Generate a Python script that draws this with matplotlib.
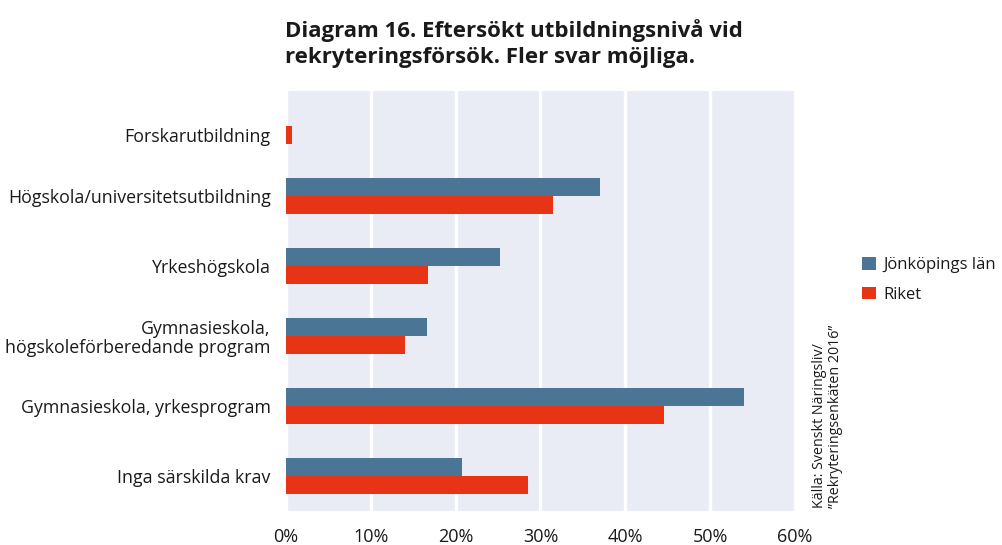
import matplotlib
matplotlib.use("Agg")
import matplotlib.pyplot as plt
import matplotlib.transforms as mtransforms
import numpy as np

categories = [
    "Forskarutbildning",
    "Högskola/universitetsutbildning",
    "Yrkeshögskola",
    "Gymnasieskola,\nhögskoleförberedande program",
    "Gymnasieskola, yrkesprogram",
    "Inga särskilda krav",
]
jonkoping = [0.0, 37.0, 25.2, 16.6, 54.0, 20.8]
riket = [0.7, 31.5, 16.8, 14.0, 44.6, 28.5]
series_names = ["Jönköpings län", "Riket"]
xticks = [0, 10, 20, 30, 40, 50, 60]
xtick_labels = [f"{v}%" for v in xticks]
title = "Diagram 16. Eftersökt utbildningsnivå vid\nrekryteringsförsök. Fler svar möjliga."
source = "Källa: Svenskt Näringsliv/\n”Rekryteringsenkäten 2016”"

FONT = ["Open Sans", "DejaVu Sans"]
plt.rcParams["font.family"] = FONT
BLUE = "#4a7594"
RED = "#e63414"
BG = "#e9ecf4"
TXT = "#1a1a1a"

fig = plt.figure(figsize=(10.02, 5.45), dpi=100)
ax = fig.add_axes([0.2854, 0.0624, 0.5080, 0.7712])
ax.set_facecolor(BG)

y = np.arange(len(categories))
h = 0.26
ax.barh(y - h / 2, jonkoping, height=h, color=BLUE, label=series_names[0], zorder=3)
ax.barh(y + h / 2, riket, height=h, color=RED, label=series_names[1], zorder=3)

ax.set_ylim(len(categories) - 0.5, -0.5)
ax.set_xlim(0, 60)
ax.set_yticks(y)
ax.set_yticklabels(categories, fontsize=12.8, color=TXT, ha="right", multialignment="right",
                   linespacing=1.05)
ax.set_xticks(xticks)
ax.set_xticklabels(xtick_labels, fontsize=13, color=TXT)
ax.tick_params(axis="both", length=0)
ax.tick_params(axis="y", pad=11)
ax.tick_params(axis="x", pad=12)
ax.grid(axis="x", color="white", linewidth=2.4, zorder=1)
ax.set_axisbelow(True)
for s in ax.spines.values():
    s.set_visible(False)

# first category label sits slightly lower in the reference
first = ax.get_yticklabels()[0]
first.set_transform(first.get_transform() +
                    mtransforms.ScaledTranslation(0, -0.09, fig.dpi_scale_trans))

fig.text(0.2844, 0.965, title, fontsize=16, fontweight="bold", color=TXT,
         ha="left", va="top", linespacing=1.3)

leg = ax.legend(loc="upper left", bbox_to_anchor=(1.132, 0.604), frameon=False,
                fontsize=12, handlelength=0.8, handleheight=0.8, handletextpad=0.5,
                labelspacing=0.8, borderaxespad=0, borderpad=0, labelcolor=TXT)

fig.text(0.826, 0.067, source, rotation=90, fontsize=10.3, color=TXT,
         ha="center", va="bottom", linespacing=1.05, multialignment="left")

fig.savefig("out.png", dpi=100)
